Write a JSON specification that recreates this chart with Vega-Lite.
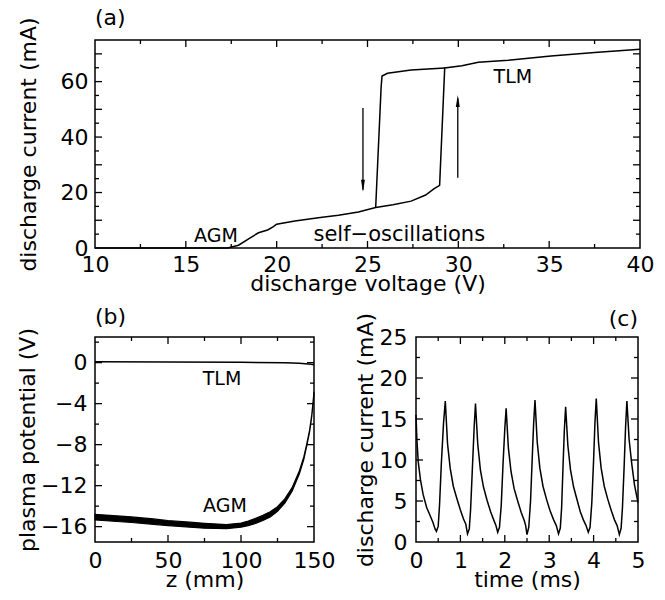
{
  "$schema": "https://vega.github.io/schema/vega-lite/v6.json",
  "padding": {"left": 16, "top": 6, "right": 5, "bottom": 0},
  "config": {
    "font": "DejaVu Sans",
    "view": {"stroke": null},
    "axis": {"domain": false, "grid": false, "ticks": false, "labelFont": "DejaVu Sans", "labelFontSize": 22, "labelColor": "black", "titleFont": "DejaVu Sans", "titleFontSize": 22, "titleFontWeight": "normal", "titleColor": "black", "labelFlush": false, "labelOverlap": false, "format": "d"},
    "title": {"font": "DejaVu Sans", "fontSize": 22, "fontWeight": "normal", "color": "black", "frame": "group"},
    "text": {"font": "DejaVu Sans", "color": "black"},
    "tick": {"color": "black", "thickness": 1.3, "opacity": 1}
  },
  "spacing": 11,
  "vconcat": [
    {
      "hconcat": [
        {
          "width": 545, "height": 208,
          "title": {"text": "(a)", "anchor": "start", "offset": -13},
          "layer": [
            {
              "data": {"values": [
                {"b": "up", "o": 1, "v": 10, "i": 0},
                {"b": "up", "o": 2, "v": 17.3, "i": 0},
                {"b": "up", "o": 3, "v": 17.9, "i": 1.0},
                {"b": "up", "o": 4, "v": 18.5, "i": 3.5},
                {"b": "up", "o": 5, "v": 19.0, "i": 5.5},
                {"b": "up", "o": 6, "v": 19.5, "i": 6.5},
                {"b": "up", "o": 7, "v": 19.8, "i": 7.6},
                {"b": "up", "o": 8, "v": 20.0, "i": 8.6},
                {"b": "up", "o": 9, "v": 21.0, "i": 9.7},
                {"b": "up", "o": 10, "v": 22.4, "i": 11.0},
                {"b": "up", "o": 11, "v": 23.4, "i": 11.8},
                {"b": "up", "o": 12, "v": 24.5, "i": 13.0},
                {"b": "up", "o": 13, "v": 25.45, "i": 14.6},
                {"b": "up", "o": 14, "v": 26.4, "i": 15.6},
                {"b": "up", "o": 15, "v": 27.4, "i": 16.9},
                {"b": "up", "o": 16, "v": 28.2, "i": 19.1},
                {"b": "up", "o": 17, "v": 28.65, "i": 21.3},
                {"b": "up", "o": 18, "v": 28.97, "i": 22.6},
                {"b": "up", "o": 19, "v": 29.25, "i": 64.9},
                {"b": "up", "o": 20, "v": 30.2, "i": 65.7},
                {"b": "up", "o": 21, "v": 31.1, "i": 67.0},
                {"b": "up", "o": 22, "v": 32.75, "i": 67.7},
                {"b": "up", "o": 23, "v": 35.1, "i": 69.2},
                {"b": "up", "o": 24, "v": 37.5, "i": 70.5},
                {"b": "up", "o": 25, "v": 40, "i": 71.7},
                {"b": "down", "o": 1, "v": 29.25, "i": 64.9},
                {"b": "down", "o": 2, "v": 27.4, "i": 64.2},
                {"b": "down", "o": 3, "v": 26.1, "i": 63.0},
                {"b": "down", "o": 4, "v": 25.8, "i": 62.0},
                {"b": "down", "o": 5, "v": 25.75, "i": 58.0},
                {"b": "down", "o": 6, "v": 25.45, "i": 14.6}
              ]},
              "mark": {"type": "line", "color": "black", "strokeWidth": 1.5},
              "encoding": {
                "x": {"field": "v", "type": "quantitative", "scale": {"domain": [10, 40], "nice": false, "zero": false},
                  "axis": {"orient": "bottom", "title": "discharge voltage (V)", "values": [10, 15, 20, 25, 30, 35, 40], "labelPadding": 6, "titlePadding": -2}},
                "y": {"field": "i", "type": "quantitative", "scale": {"domain": [0, 75], "nice": false},
                  "axis": {"orient": "left", "title": "discharge current (mA)", "values": [0, 10, 20, 30, 40, 50, 60, 70], "labelPadding": 7, "titlePadding": 20}},
                "detail": {"field": "b"},
                "order": {"field": "o", "type": "quantitative"}
              }
            },
            {
              "data": {"values": [{"x1": 10, "x2": 40, "y1": 0, "y2": 75}]},
              "mark": {"type": "rect", "filled": false, "color": "black", "strokeWidth": 1.5},
              "encoding": {
                "x": {"field": "x1", "type": "quantitative", "scale": {"domain": [10, 40], "nice": false, "zero": false}},
                "x2": {"field": "x2"},
                "y": {"field": "y1", "type": "quantitative", "scale": {"domain": [0, 75], "nice": false}},
                "y2": {"field": "y2"}
              }
            },
            {
              "data": {"values": [
                {"s": "x", "k": "M", "v": 15}, {"s": "x", "k": "M", "v": 20}, {"s": "x", "k": "M", "v": 25}, {"s": "x", "k": "M", "v": 30}, {"s": "x", "k": "M", "v": 35},
                {"s": "x", "k": "m", "v": 12.5}, {"s": "x", "k": "m", "v": 17.5}, {"s": "x", "k": "m", "v": 22.5}, {"s": "x", "k": "m", "v": 27.5}, {"s": "x", "k": "m", "v": 32.5}, {"s": "x", "k": "m", "v": 37.5},
                {"s": "y", "k": "M", "v": 10}, {"s": "y", "k": "M", "v": 20}, {"s": "y", "k": "M", "v": 30}, {"s": "y", "k": "M", "v": 40}, {"s": "y", "k": "M", "v": 50}, {"s": "y", "k": "M", "v": 60}, {"s": "y", "k": "M", "v": 70},
                {"s": "y", "k": "m", "v": 5}, {"s": "y", "k": "m", "v": 15}, {"s": "y", "k": "m", "v": 25}, {"s": "y", "k": "m", "v": 35}, {"s": "y", "k": "m", "v": 45}, {"s": "y", "k": "m", "v": 55}, {"s": "y", "k": "m", "v": 65}
              ]},
              "layer": [
                {"transform": [{"filter": "datum.s === 'x' && datum.k === 'M'"}], "mark": {"type": "tick", "orient": "vertical", "size": 7, "yOffset": -3.5},
                 "encoding": {"x": {"field": "v", "type": "quantitative", "scale": {"domain": [10, 40], "nice": false, "zero": false}}, "y": {"datum": 0, "type": "quantitative", "scale": {"domain": [0, 75], "nice": false}}}},
                {"transform": [{"filter": "datum.s === 'x' && datum.k === 'm'"}], "mark": {"type": "tick", "orient": "vertical", "size": 4, "yOffset": -2},
                 "encoding": {"x": {"field": "v", "type": "quantitative", "scale": {"domain": [10, 40], "nice": false, "zero": false}}, "y": {"datum": 0, "type": "quantitative", "scale": {"domain": [0, 75], "nice": false}}}},
                {"transform": [{"filter": "datum.s === 'x' && datum.k === 'M'"}], "mark": {"type": "tick", "orient": "vertical", "size": 7, "yOffset": 3.5},
                 "encoding": {"x": {"field": "v", "type": "quantitative", "scale": {"domain": [10, 40], "nice": false, "zero": false}}, "y": {"datum": 75, "type": "quantitative", "scale": {"domain": [0, 75], "nice": false}}}},
                {"transform": [{"filter": "datum.s === 'x' && datum.k === 'm'"}], "mark": {"type": "tick", "orient": "vertical", "size": 4, "yOffset": 2},
                 "encoding": {"x": {"field": "v", "type": "quantitative", "scale": {"domain": [10, 40], "nice": false, "zero": false}}, "y": {"datum": 75, "type": "quantitative", "scale": {"domain": [0, 75], "nice": false}}}},
                {"transform": [{"filter": "datum.s === 'y' && datum.k === 'M'"}], "mark": {"type": "tick", "orient": "horizontal", "size": 7, "xOffset": 3.5},
                 "encoding": {"y": {"field": "v", "type": "quantitative", "scale": {"domain": [0, 75], "nice": false}}, "x": {"datum": 10, "type": "quantitative", "scale": {"domain": [10, 40], "nice": false, "zero": false}}}},
                {"transform": [{"filter": "datum.s === 'y' && datum.k === 'm'"}], "mark": {"type": "tick", "orient": "horizontal", "size": 4, "xOffset": 2},
                 "encoding": {"y": {"field": "v", "type": "quantitative", "scale": {"domain": [0, 75], "nice": false}}, "x": {"datum": 10, "type": "quantitative", "scale": {"domain": [10, 40], "nice": false, "zero": false}}}},
                {"transform": [{"filter": "datum.s === 'y' && datum.k === 'M'"}], "mark": {"type": "tick", "orient": "horizontal", "size": 7, "xOffset": -3.5},
                 "encoding": {"y": {"field": "v", "type": "quantitative", "scale": {"domain": [0, 75], "nice": false}}, "x": {"datum": 40, "type": "quantitative", "scale": {"domain": [10, 40], "nice": false, "zero": false}}}},
                {"transform": [{"filter": "datum.s === 'y' && datum.k === 'm'"}], "mark": {"type": "tick", "orient": "horizontal", "size": 4, "xOffset": -2},
                 "encoding": {"y": {"field": "v", "type": "quantitative", "scale": {"domain": [0, 75], "nice": false}}, "x": {"datum": 40, "type": "quantitative", "scale": {"domain": [10, 40], "nice": false, "zero": false}}}}
              ]
            },
            {
              "data": {"values": [
                {"v": 24.75, "y1": 50.5, "y2": 21},
                {"v": 29.97, "y1": 25.3, "y2": 54}
              ]},
              "mark": {"type": "rule", "color": "black", "strokeWidth": 1.3},
              "encoding": {
                "x": {"field": "v", "type": "quantitative", "scale": {"domain": [10, 40], "nice": false, "zero": false}},
                "y": {"field": "y1", "type": "quantitative", "scale": {"domain": [0, 75], "nice": false}},
                "y2": {"field": "y2"}
              }
            },
            {
              "data": {"values": [{"v": 24.75, "i": 20.3}]},
              "mark": {"type": "point", "shape": "M0,0L-0.33,-2L0.33,-2Z", "filled": true, "color": "black", "size": 144, "opacity": 1},
              "encoding": {
                "x": {"field": "v", "type": "quantitative", "scale": {"domain": [10, 40], "nice": false, "zero": false}},
                "y": {"field": "i", "type": "quantitative", "scale": {"domain": [0, 75], "nice": false}}
              }
            },
            {
              "data": {"values": [{"v": 29.97, "i": 55.2}]},
              "mark": {"type": "point", "shape": "M0,0L-0.33,2L0.33,2Z", "filled": true, "color": "black", "size": 144, "opacity": 1},
              "encoding": {
                "x": {"field": "v", "type": "quantitative", "scale": {"domain": [10, 40], "nice": false, "zero": false}},
                "y": {"field": "i", "type": "quantitative", "scale": {"domain": [0, 75], "nice": false}}
              }
            },
            {
              "data": {"values": [
                {"v": 16.66, "i": 4.4, "t": "AGM", "s": 19},
                {"v": 26.75, "i": 4.8, "t": "self−oscillations", "s": 21},
                {"v": 33.0, "i": 61.8, "t": "TLM", "s": 19}
              ]},
              "mark": {"type": "text", "align": "center", "baseline": "middle"},
              "encoding": {
                "x": {"field": "v", "type": "quantitative", "scale": {"domain": [10, 40], "nice": false, "zero": false}},
                "y": {"field": "i", "type": "quantitative", "scale": {"domain": [0, 75], "nice": false}},
                "text": {"field": "t"},
                "size": {"field": "s", "type": "quantitative", "scale": null}
              }
            }
          ]
        }
      ]
    },
    {
      "spacing": 19,
      "hconcat": [
        {
          "width": 219, "height": 205,
          "title": {"text": "(b)", "anchor": "start", "offset": -1},
          "layer": [
            {
              "data": {"values": [
                {"z": 0, "lo": -15.35, "hi": -14.8},
                {"z": 10, "lo": -15.45, "hi": -14.9},
                {"z": 25, "lo": -15.6, "hi": -15.05},
                {"z": 40, "lo": -15.78, "hi": -15.25},
                {"z": 50, "lo": -15.9, "hi": -15.4},
                {"z": 65, "lo": -16.05, "hi": -15.57},
                {"z": 75, "lo": -16.15, "hi": -15.68},
                {"z": 90, "lo": -16.2, "hi": -15.8},
                {"z": 100, "lo": -16.05, "hi": -15.65},
                {"z": 105, "lo": -15.9, "hi": -15.45},
                {"z": 110, "lo": -15.7, "hi": -15.2},
                {"z": 115, "lo": -15.4, "hi": -14.9},
                {"z": 120, "lo": -15.05, "hi": -14.55},
                {"z": 125, "lo": -14.5, "hi": -14.05},
                {"z": 130, "lo": -13.7, "hi": -13.3},
                {"z": 135, "lo": -12.55, "hi": -12.2},
                {"z": 140, "lo": -10.85, "hi": -10.55},
                {"z": 143, "lo": -9.45, "hi": -9.2},
                {"z": 145, "lo": -8.15, "hi": -7.95},
                {"z": 147, "lo": -6.75, "hi": -6.55},
                {"z": 148.5, "lo": -5.25, "hi": -5.05},
                {"z": 150, "lo": -3.0, "hi": -2.85}
              ]},
              "mark": {"type": "area", "color": "black", "opacity": 1, "stroke": "black", "strokeWidth": 1.2},
              "encoding": {
                "x": {"field": "z", "type": "quantitative", "scale": {"domain": [0, 150], "nice": false},
                  "axis": {"orient": "bottom", "title": "z (mm)", "values": [0, 50, 100, 150], "labelPadding": 8, "titlePadding": -2}},
                "y": {"field": "lo", "type": "quantitative", "scale": {"domain": [-17.5, 2.5], "nice": false, "zero": false},
                  "axis": {"orient": "left", "title": "plasma potential (V)", "values": [-16, -12, -8, -4, 0], "labelPadding": 8, "titlePadding": 1}},
                "y2": {"field": "hi"}
              }
            },
            {
              "data": {"values": [
                {"z": 0, "p": 0.08},
                {"z": 50, "p": 0.06},
                {"z": 100, "p": 0.03},
                {"z": 130, "p": -0.02},
                {"z": 140, "p": -0.07},
                {"z": 148, "p": -0.15},
                {"z": 150, "p": -0.2}
              ]},
              "mark": {"type": "line", "color": "black", "strokeWidth": 1.5},
              "encoding": {
                "x": {"field": "z", "type": "quantitative", "scale": {"domain": [0, 150], "nice": false}},
                "y": {"field": "p", "type": "quantitative", "scale": {"domain": [-17.5, 2.5], "nice": false, "zero": false}}
              }
            },
            {
              "data": {"values": [{"x1": 0, "x2": 150, "y1": -17.5, "y2": 2.5}]},
              "mark": {"type": "rect", "filled": false, "color": "black", "strokeWidth": 1.5},
              "encoding": {
                "x": {"field": "x1", "type": "quantitative", "scale": {"domain": [0, 150], "nice": false}},
                "x2": {"field": "x2"},
                "y": {"field": "y1", "type": "quantitative", "scale": {"domain": [-17.5, 2.5], "nice": false, "zero": false}},
                "y2": {"field": "y2"}
              }
            },
            {
              "data": {"values": [
                {"s": "x", "k": "M", "v": 50}, {"s": "x", "k": "M", "v": 100},
                {"s": "x", "k": "m", "v": 25}, {"s": "x", "k": "m", "v": 75}, {"s": "x", "k": "m", "v": 125},
                {"s": "y", "k": "M", "v": -16}, {"s": "y", "k": "M", "v": -12}, {"s": "y", "k": "M", "v": -8}, {"s": "y", "k": "M", "v": -4}, {"s": "y", "k": "M", "v": 0},
                {"s": "y", "k": "m", "v": -14}, {"s": "y", "k": "m", "v": -10}, {"s": "y", "k": "m", "v": -6}, {"s": "y", "k": "m", "v": -2}, {"s": "y", "k": "m", "v": 2}
              ]},
              "layer": [
                {"transform": [{"filter": "datum.s === 'x' && datum.k === 'M'"}], "mark": {"type": "tick", "orient": "vertical", "size": 7, "yOffset": -3.5},
                 "encoding": {"x": {"field": "v", "type": "quantitative", "scale": {"domain": [0, 150], "nice": false}}, "y": {"datum": -17.5, "type": "quantitative", "scale": {"domain": [-17.5, 2.5], "nice": false, "zero": false}}}},
                {"transform": [{"filter": "datum.s === 'x' && datum.k === 'm'"}], "mark": {"type": "tick", "orient": "vertical", "size": 4, "yOffset": -2},
                 "encoding": {"x": {"field": "v", "type": "quantitative", "scale": {"domain": [0, 150], "nice": false}}, "y": {"datum": -17.5, "type": "quantitative", "scale": {"domain": [-17.5, 2.5], "nice": false, "zero": false}}}},
                {"transform": [{"filter": "datum.s === 'x' && datum.k === 'M'"}], "mark": {"type": "tick", "orient": "vertical", "size": 7, "yOffset": 3.5},
                 "encoding": {"x": {"field": "v", "type": "quantitative", "scale": {"domain": [0, 150], "nice": false}}, "y": {"datum": 2.5, "type": "quantitative", "scale": {"domain": [-17.5, 2.5], "nice": false, "zero": false}}}},
                {"transform": [{"filter": "datum.s === 'x' && datum.k === 'm'"}], "mark": {"type": "tick", "orient": "vertical", "size": 4, "yOffset": 2},
                 "encoding": {"x": {"field": "v", "type": "quantitative", "scale": {"domain": [0, 150], "nice": false}}, "y": {"datum": 2.5, "type": "quantitative", "scale": {"domain": [-17.5, 2.5], "nice": false, "zero": false}}}},
                {"transform": [{"filter": "datum.s === 'y' && datum.k === 'M'"}], "mark": {"type": "tick", "orient": "horizontal", "size": 7, "xOffset": 3.5},
                 "encoding": {"y": {"field": "v", "type": "quantitative", "scale": {"domain": [-17.5, 2.5], "nice": false, "zero": false}}, "x": {"datum": 0, "type": "quantitative", "scale": {"domain": [0, 150], "nice": false}}}},
                {"transform": [{"filter": "datum.s === 'y' && datum.k === 'm'"}], "mark": {"type": "tick", "orient": "horizontal", "size": 4, "xOffset": 2},
                 "encoding": {"y": {"field": "v", "type": "quantitative", "scale": {"domain": [-17.5, 2.5], "nice": false, "zero": false}}, "x": {"datum": 0, "type": "quantitative", "scale": {"domain": [0, 150], "nice": false}}}},
                {"transform": [{"filter": "datum.s === 'y' && datum.k === 'M'"}], "mark": {"type": "tick", "orient": "horizontal", "size": 7, "xOffset": -3.5},
                 "encoding": {"y": {"field": "v", "type": "quantitative", "scale": {"domain": [-17.5, 2.5], "nice": false, "zero": false}}, "x": {"datum": 150, "type": "quantitative", "scale": {"domain": [0, 150], "nice": false}}}},
                {"transform": [{"filter": "datum.s === 'y' && datum.k === 'm'"}], "mark": {"type": "tick", "orient": "horizontal", "size": 4, "xOffset": -2},
                 "encoding": {"y": {"field": "v", "type": "quantitative", "scale": {"domain": [-17.5, 2.5], "nice": false, "zero": false}}, "x": {"datum": 150, "type": "quantitative", "scale": {"domain": [0, 150], "nice": false}}}}
              ]
            },
            {
              "data": {"values": [
                {"z": 87, "p": -1.56, "t": "TLM"},
                {"z": 89, "p": -14.0, "t": "AGM"}
              ]},
              "mark": {"type": "text", "align": "center", "baseline": "middle", "fontSize": 19},
              "encoding": {
                "x": {"field": "z", "type": "quantitative", "scale": {"domain": [0, 150], "nice": false}},
                "y": {"field": "p", "type": "quantitative", "scale": {"domain": [-17.5, 2.5], "nice": false, "zero": false}},
                "text": {"field": "t"}
              }
            }
          ]
        },
        {
          "width": 222, "height": 205,
          "title": {"text": "(c)", "anchor": "end", "offset": -19},
          "layer": [
            {
              "data": {"values": [
                {"t": 0.0, "c": 15.5}, {"t": 0.02, "c": 12.5}, {"t": 0.05, "c": 9.8}, {"t": 0.1, "c": 7.6}, {"t": 0.16, "c": 5.8}, {"t": 0.24, "c": 4.2}, {"t": 0.32, "c": 3.2}, {"t": 0.38, "c": 2.4}, {"t": 0.43, "c": 1.6}, {"t": 0.46, "c": 1.3}, {"t": 0.5, "c": 1.9}, {"t": 0.53, "c": 4.5}, {"t": 0.57, "c": 9.5}, {"t": 0.62, "c": 14.5}, {"t": 0.66, "c": 17.2},
                {"t": 0.71, "c": 12.0}, {"t": 0.77, "c": 9.0}, {"t": 0.84, "c": 6.8}, {"t": 0.92, "c": 5.3}, {"t": 1.0, "c": 3.9}, {"t": 1.07, "c": 2.8}, {"t": 1.12, "c": 2.2}, {"t": 1.16, "c": 1.0}, {"t": 1.2, "c": 1.6}, {"t": 1.23, "c": 4.0}, {"t": 1.27, "c": 9.0}, {"t": 1.31, "c": 14.0}, {"t": 1.34, "c": 16.9},
                {"t": 1.39, "c": 12.0}, {"t": 1.45, "c": 8.8}, {"t": 1.52, "c": 6.7}, {"t": 1.6, "c": 5.1}, {"t": 1.68, "c": 3.7}, {"t": 1.75, "c": 2.7}, {"t": 1.8, "c": 2.0}, {"t": 1.84, "c": 1.2}, {"t": 1.88, "c": 1.8}, {"t": 1.92, "c": 4.5}, {"t": 1.96, "c": 9.5}, {"t": 2.0, "c": 13.8}, {"t": 2.03, "c": 16.3},
                {"t": 2.08, "c": 11.5}, {"t": 2.14, "c": 8.6}, {"t": 2.21, "c": 6.5}, {"t": 2.29, "c": 5.0}, {"t": 2.37, "c": 3.6}, {"t": 2.44, "c": 2.6}, {"t": 2.47, "c": 2.0}, {"t": 2.5, "c": 0.9}, {"t": 2.54, "c": 1.8}, {"t": 2.58, "c": 5.0}, {"t": 2.62, "c": 10.5}, {"t": 2.65, "c": 14.5}, {"t": 2.68, "c": 17.3},
                {"t": 2.73, "c": 12.2}, {"t": 2.79, "c": 9.0}, {"t": 2.86, "c": 6.8}, {"t": 2.94, "c": 5.2}, {"t": 3.02, "c": 3.8}, {"t": 3.1, "c": 2.7}, {"t": 3.16, "c": 2.0}, {"t": 3.21, "c": 1.0}, {"t": 3.25, "c": 1.7}, {"t": 3.28, "c": 4.2}, {"t": 3.31, "c": 9.0}, {"t": 3.34, "c": 13.5}, {"t": 3.37, "c": 16.5},
                {"t": 3.42, "c": 11.8}, {"t": 3.48, "c": 8.8}, {"t": 3.55, "c": 6.7}, {"t": 3.63, "c": 5.1}, {"t": 3.7, "c": 3.7}, {"t": 3.77, "c": 2.7}, {"t": 3.83, "c": 2.0}, {"t": 3.88, "c": 1.2}, {"t": 3.92, "c": 1.8}, {"t": 3.96, "c": 4.8}, {"t": 4.0, "c": 10.0}, {"t": 4.03, "c": 14.5}, {"t": 4.06, "c": 17.5},
                {"t": 4.11, "c": 12.2}, {"t": 4.17, "c": 9.0}, {"t": 4.24, "c": 6.8}, {"t": 4.32, "c": 5.2}, {"t": 4.4, "c": 3.8}, {"t": 4.47, "c": 2.7}, {"t": 4.53, "c": 2.0}, {"t": 4.58, "c": 0.9}, {"t": 4.62, "c": 1.7}, {"t": 4.65, "c": 4.2}, {"t": 4.69, "c": 9.5}, {"t": 4.72, "c": 14.0}, {"t": 4.75, "c": 17.2},
                {"t": 4.8, "c": 12.5}, {"t": 4.86, "c": 9.5}, {"t": 4.92, "c": 7.0}, {"t": 5.0, "c": 4.8}
              ]},
              "mark": {"type": "line", "color": "black", "strokeWidth": 1.5},
              "encoding": {
                "x": {"field": "t", "type": "quantitative", "scale": {"domain": [0, 5], "nice": false},
                  "axis": {"orient": "bottom", "title": "time (ms)", "values": [0, 1, 2, 3, 4, 5], "labelPadding": 8, "titlePadding": -2}},
                "y": {"field": "c", "type": "quantitative", "scale": {"domain": [0, 25], "nice": false},
                  "axis": {"orient": "left", "title": "discharge current (mA)", "values": [0, 5, 10, 15, 20, 25], "labelPadding": 9, "titlePadding": 2}}
              }
            },
            {
              "data": {"values": [{"x1": 0, "x2": 5, "y1": 0, "y2": 25}]},
              "mark": {"type": "rect", "filled": false, "color": "black", "strokeWidth": 1.5},
              "encoding": {
                "x": {"field": "x1", "type": "quantitative", "scale": {"domain": [0, 5], "nice": false}},
                "x2": {"field": "x2"},
                "y": {"field": "y1", "type": "quantitative", "scale": {"domain": [0, 25], "nice": false}},
                "y2": {"field": "y2"}
              }
            },
            {
              "data": {"values": [
                {"s": "x", "k": "M", "v": 1}, {"s": "x", "k": "M", "v": 2}, {"s": "x", "k": "M", "v": 3}, {"s": "x", "k": "M", "v": 4},
                {"s": "x", "k": "m", "v": 0.5}, {"s": "x", "k": "m", "v": 1.5}, {"s": "x", "k": "m", "v": 2.5}, {"s": "x", "k": "m", "v": 3.5}, {"s": "x", "k": "m", "v": 4.5},
                {"s": "y", "k": "M", "v": 5}, {"s": "y", "k": "M", "v": 10}, {"s": "y", "k": "M", "v": 15}, {"s": "y", "k": "M", "v": 20},
                {"s": "y", "k": "m", "v": 2.5}, {"s": "y", "k": "m", "v": 7.5}, {"s": "y", "k": "m", "v": 12.5}, {"s": "y", "k": "m", "v": 17.5}, {"s": "y", "k": "m", "v": 22.5}
              ]},
              "layer": [
                {"transform": [{"filter": "datum.s === 'x' && datum.k === 'M'"}], "mark": {"type": "tick", "orient": "vertical", "size": 7, "yOffset": -3.5},
                 "encoding": {"x": {"field": "v", "type": "quantitative", "scale": {"domain": [0, 5], "nice": false}}, "y": {"datum": 0, "type": "quantitative", "scale": {"domain": [0, 25], "nice": false}}}},
                {"transform": [{"filter": "datum.s === 'x' && datum.k === 'm'"}], "mark": {"type": "tick", "orient": "vertical", "size": 4, "yOffset": -2},
                 "encoding": {"x": {"field": "v", "type": "quantitative", "scale": {"domain": [0, 5], "nice": false}}, "y": {"datum": 0, "type": "quantitative", "scale": {"domain": [0, 25], "nice": false}}}},
                {"transform": [{"filter": "datum.s === 'x' && datum.k === 'M'"}], "mark": {"type": "tick", "orient": "vertical", "size": 7, "yOffset": 3.5},
                 "encoding": {"x": {"field": "v", "type": "quantitative", "scale": {"domain": [0, 5], "nice": false}}, "y": {"datum": 25, "type": "quantitative", "scale": {"domain": [0, 25], "nice": false}}}},
                {"transform": [{"filter": "datum.s === 'x' && datum.k === 'm'"}], "mark": {"type": "tick", "orient": "vertical", "size": 4, "yOffset": 2},
                 "encoding": {"x": {"field": "v", "type": "quantitative", "scale": {"domain": [0, 5], "nice": false}}, "y": {"datum": 25, "type": "quantitative", "scale": {"domain": [0, 25], "nice": false}}}},
                {"transform": [{"filter": "datum.s === 'y' && datum.k === 'M'"}], "mark": {"type": "tick", "orient": "horizontal", "size": 7, "xOffset": 3.5},
                 "encoding": {"y": {"field": "v", "type": "quantitative", "scale": {"domain": [0, 25], "nice": false}}, "x": {"datum": 0, "type": "quantitative", "scale": {"domain": [0, 5], "nice": false}}}},
                {"transform": [{"filter": "datum.s === 'y' && datum.k === 'm'"}], "mark": {"type": "tick", "orient": "horizontal", "size": 4, "xOffset": 2},
                 "encoding": {"y": {"field": "v", "type": "quantitative", "scale": {"domain": [0, 25], "nice": false}}, "x": {"datum": 0, "type": "quantitative", "scale": {"domain": [0, 5], "nice": false}}}},
                {"transform": [{"filter": "datum.s === 'y' && datum.k === 'M'"}], "mark": {"type": "tick", "orient": "horizontal", "size": 7, "xOffset": -3.5},
                 "encoding": {"y": {"field": "v", "type": "quantitative", "scale": {"domain": [0, 25], "nice": false}}, "x": {"datum": 5, "type": "quantitative", "scale": {"domain": [0, 5], "nice": false}}}},
                {"transform": [{"filter": "datum.s === 'y' && datum.k === 'm'"}], "mark": {"type": "tick", "orient": "horizontal", "size": 4, "xOffset": -2},
                 "encoding": {"y": {"field": "v", "type": "quantitative", "scale": {"domain": [0, 25], "nice": false}}, "x": {"datum": 5, "type": "quantitative", "scale": {"domain": [0, 5], "nice": false}}}}
              ]
            }
          ]
        }
      ]
    }
  ]
}
